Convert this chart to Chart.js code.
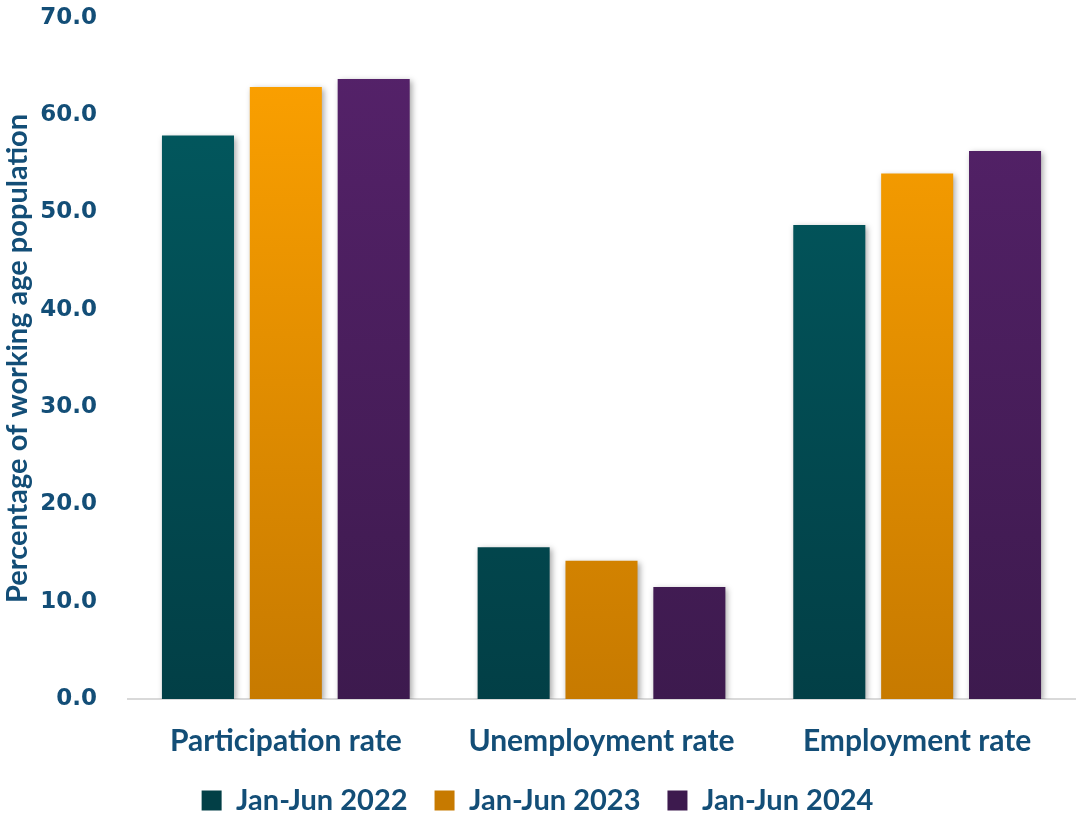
<!DOCTYPE html>
<html>
<head>
<meta charset="utf-8">
<script src="https://cdn.jsdelivr.net/npm/chart.js@4"></script>
<style>
  html, body { margin: 0; padding: 0; background: #fff; }
  #wrap { width: 1081px; height: 818px; }
</style>
</head>
<body>
<div id="wrap"><canvas id="chart"></canvas></div>
<script>
const categories = ['Participation rate', 'Unemployment rate', 'Employment rate'];
const seriesNames = ['Jan-Jun 2022', 'Jan-Jun 2023', 'Jan-Jun 2024'];
const values2022 = [57.9, 15.6, 48.7];
const values2023 = [62.9, 14.2, 54.0];
const values2024 = [63.7, 11.5, 56.3];
const yTicks = [0, 10, 20, 30, 40, 50, 60, 70];

const textColor = '#134e77';
// [top, bottom] colours of each series gradient
const palettes = [
  ['#025b61', '#023f46'],
  ['#ffa300', '#c77a00'],
  ['#56226b', '#3d1a4e']
];

function gradientFor(i) {
  return function (ctx) {
    const area = ctx.chart.chartArea;
    if (!area) return palettes[i][0];
    const g = ctx.chart.ctx.createLinearGradient(0, area.top, 0, area.bottom);
    g.addColorStop(0, palettes[i][0]);
    g.addColorStop(1, palettes[i][1]);
    return g;
  };
}

const barShadow = {
  id: 'barShadow',
  beforeDatasetsDraw(chart) {
    const c = chart.ctx;
    c.save();
    c.shadowColor = 'rgba(0,0,0,0.35)';
    c.shadowBlur = 6;
    c.shadowOffsetX = 2;
    c.shadowOffsetY = 2;
  },
  afterDatasetsDraw(chart) {
    chart.ctx.restore();
  }
};

const seriesValues = [values2022, values2023, values2024];

new Chart(document.getElementById('chart'), {
  type: 'bar',
  data: {
    labels: categories,
    datasets: seriesNames.map((name, i) => ({
      label: name,
      data: seriesValues[i],
      backgroundColor: gradientFor(i),
      borderWidth: 0,
      categoryPercentage: 0.835,
      barPercentage: 0.82
    }))
  },
  options: {
    responsive: true,
    maintainAspectRatio: false,
    animation: false,
    layout: { padding: { top: 0, right: 6, left: 0, bottom: -7 } },
    plugins: {
      tooltip: { enabled: false },
      legend: {
        position: 'bottom',
        labels: {
          color: textColor,
          font: { family: 'Lato', weight: 'bold', size: 29 },
          boxWidth: 20,
          boxHeight: 20,
          padding: 27,
          generateLabels(chart) {
            return chart.data.datasets.map((ds, i) => ({
              text: ds.label,
              fillStyle: palettes[i][1],
              strokeStyle: palettes[i][1],
              lineWidth: 0,
              fontColor: textColor,
              datasetIndex: i
            }));
          }
        }
      }
    },
    scales: {
      x: {
        grid: { display: false },
        border: { display: true, color: '#d9d9d9', width: 2 },
        afterFit(axis) { axis.height = 60; },
        ticks: {
          color: textColor,
          font: { family: 'Lato', weight: 'bold', size: 30 },
          padding: 16
        }
      },
      y: {
        min: 0,
        max: 70,
        afterBuildTicks(axis) {
          axis.ticks = yTicks.map(v => ({ value: v }));
        },
        afterFit(axis) { axis.width = 128; },
        grid: { display: false, drawTicks: true, tickLength: 27 },
        border: { display: false },
        ticks: {
          color: textColor,
          font: { family: 'DejaVu Sans', weight: 'bold', size: 23 },
          padding: 4,
          callback: v => Number(v).toFixed(1)
        },
        title: {
          display: true,
          text: 'Percentage of working age population',
          color: textColor,
          font: { family: 'Lato', weight: 'bold', size: 29 },
          padding: { top: 0, bottom: 0 }
        }
      }
    }
  },
  plugins: [barShadow]
});
</script>
</body>
</html>
